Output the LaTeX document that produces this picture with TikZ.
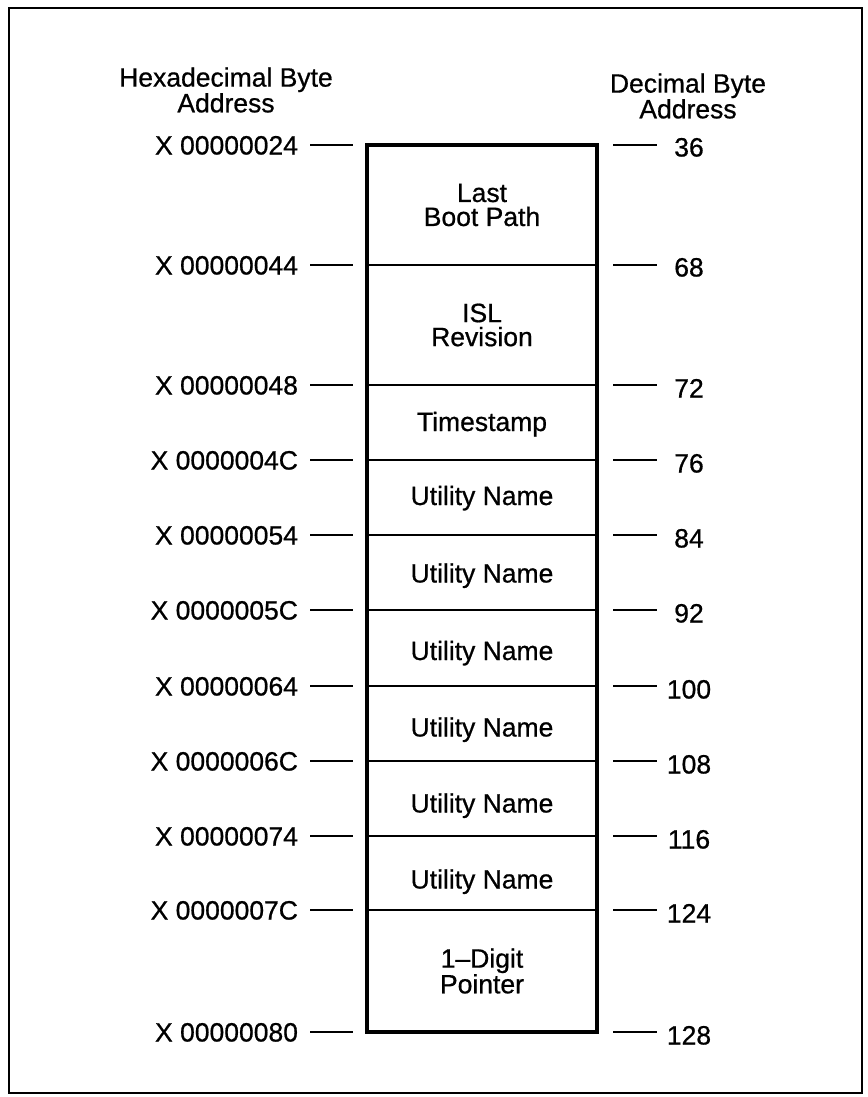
\documentclass[tikz,border=0pt]{standalone}
\usepackage{fontspec}
\setmainfont{Liberation Sans}[BoldFont={Liberation Sans}, BoldFeatures={FakeBold=0.7}]
\begin{document}
\begin{tikzpicture}[x=1pt,y=-1pt,
  every node/.style={inner sep=0pt, outer sep=0pt, font=\fontsize{26.5}{24}\selectfont\bfseries},
  cell/.style={draw, line width=2.7pt, minimum width=230pt, align=center},
  capsoff/.style={text height=#1, text depth=0pt},
  hexlab/.style={anchor=east, text height=19pt, text depth=0pt},
  declab/.style={anchor=center, text height=19pt, text depth=0pt},
  tick/.style={line width=2.7pt},
  outerbox/.style={line width=4.6pt},
  frame/.style={line width=2.5pt},
  header/.style={align=center, anchor=center}]
\useasboundingbox (0,0) rectangle (867,1097);
\fill[white] (0,0) rectangle (867,1097);
\draw[frame] (9,8) rectangle (862,1093);

% headers
\node[header] (hh) at (226,90) {Hexadecimal Byte\\Address};
\node[header] (dh) at (688,96) {Decimal Byte\\Address};

% cells
\node[cell, minimum height=120pt] (c1) at (482,205) {Last\\Boot Path};
\node[cell, minimum height=120pt] (c2) at (482,325) {ISL\\Revision};
\node[cell, minimum height=75pt, capsoff=17pt]  (c3) at (482,422.5) {Timestamp};
\node[cell, minimum height=75pt, capsoff=15pt]  (c4) at (482,497.5) {Utility Name};
\node[cell, minimum height=75pt, capsoff=20pt]  (c5) at (482,572.5) {Utility Name};
\node[cell, minimum height=76pt, capsoff=24pt]  (c6) at (482,648) {Utility Name};
\node[cell, minimum height=75pt, capsoff=26pt]  (c7) at (482,723.5) {Utility Name};
\node[cell, minimum height=75pt, capsoff=28pt]  (c8) at (482,798.5) {Utility Name};
\node[cell, minimum height=74pt, capsoff=31pt]  (c9) at (482,873) {Utility Name};
\node[cell, minimum height=122pt] (c10) at (482,971) {1--Digit\\Pointer};
\draw[outerbox] (c1.north west) rectangle (c10.south east);

% hex labels
\node[hexlab] (h1)  at (298,145)  {X 00000024};
\node[hexlab] (h2)  at (298,265)  {X 00000044};
\node[hexlab] (h3)  at (298,385)  {X 00000048};
\node[hexlab] (h4)  at (298,460)  {X 0000004C};
\node[hexlab] (h5)  at (298,535)  {X 00000054};
\node[hexlab] (h6)  at (298,610)  {X 0000005C};
\node[hexlab] (h7)  at (298,686)  {X 00000064};
\node[hexlab] (h8)  at (298,761)  {X 0000006C};
\node[hexlab] (h9)  at (298,836)  {X 00000074};
\node[hexlab] (h10) at (298,910)  {X 0000007C};
\node[hexlab] (h11) at (298,1032) {X 00000080};

% decimal labels
\node[declab] (d1)  at (689,147)  {36};
\node[declab] (d2)  at (689,267)  {68};
\node[declab] (d3)  at (689,388)  {72};
\node[declab] (d4)  at (689,463)  {76};
\node[declab] (d5)  at (689,538)  {84};
\node[declab] (d6)  at (689,613)  {92};
\node[declab] (d7)  at (689,689)  {100};
\node[declab] (d8)  at (689,764)  {108};
\node[declab] (d9)  at (689,839)  {116};
\node[declab] (d10) at (689,913)  {124};
\node[declab] (d11) at (689,1035) {128};

% ticks
\foreach \i in {1,...,10} {
  \draw[tick] ([xshift=12pt]h\i.east) -- ([xshift=-14pt]c\i.north west);
  \draw[tick] ([xshift=16pt]c\i.north east) -- ([xshift=60pt]c\i.north east);
}
\draw[tick] ([xshift=12pt]h11.east) -- ([xshift=-14pt]c10.south west);
\draw[tick] ([xshift=16pt]c10.south east) -- ([xshift=60pt]c10.south east);
\end{tikzpicture}
\end{document}
